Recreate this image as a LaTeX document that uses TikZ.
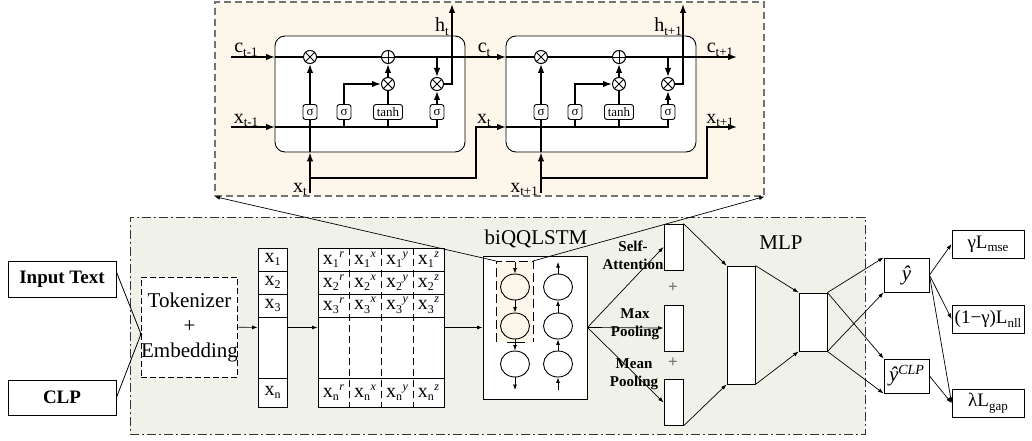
\documentclass[tikz,border=0pt]{standalone}
\usepackage{fontspec}
\setmainfont{Liberation Serif}
\usetikzlibrary{arrows.meta,shapes.geometric}
\newcommand\fsz[1]{\fontsize{#1}{#1}\selectfont}
\newcommand\lsub[2][12]{\raisebox{-3.5pt}{\fontsize{#1}{#1}\selectfont #2}}
\newcommand\lsup[2][12]{\raisebox{7pt}{\fontsize{#1}{#1}\selectfont\itshape #2}}
\definecolor{topfill}{RGB}{253,246,234}
\definecolor{botfill}{RGB}{240,242,233}
\begin{document}
\begin{tikzpicture}[x=1pt,y=-1pt,
 every node/.style={inner sep=0pt},
 box/.style={draw,line width=0.9pt,fill=white,rectangle},
 arr/.style={-{Latex[length=5.5pt,width=4pt]},line width=0.7pt},
 larr/.style={-{Latex[length=9pt,width=6.5pt]},line width=1.4pt},
 lline/.style={line width=1.4pt},
 op/.style={circle,draw,line width=1pt,fill=white,minimum size=13pt},
 gate/.style={draw,rounded corners=2.5pt,line width=0.9pt,fill=white,minimum height=15pt,font=\fsz{13}},
 dot/.style={circle,fill,minimum size=3.5pt},
 cellbox/.style={draw,rounded corners=10pt,line width=0.9pt,fill=white},
 lbl/.style={font=\fsz{20},anchor=base},
 bl/.style={font=\bfseries\fontsize{15}{18}\selectfont,align=center},
 ell/.style={ellipse,draw,line width=0.9pt,minimum width=29pt,minimum height=26pt},
 ]
\useasboundingbox (0,0) rectangle (1032,441);

% frames
\node[draw=black!55, dash pattern=on 7pt off 4pt, line width=1.1pt, fill=topfill,
      minimum width=549pt, minimum height=194pt] (top) at (489.5,99) {};
\node[draw=black!80, dash pattern=on 9pt off 3pt on 2pt off 3pt, line width=0.9pt, fill=botfill,
      minimum width=735pt, minimum height=217pt] (bot) at (497.5,325.5) {};

% ---------------- LSTM cells ----------------
\coordinate (cin) at (231,57);
\coordinate (xin) at (231,127);
\foreach \i/\d in {1/0,2/231}{
\begin{scope}[xshift=\d pt]
 \node[cellbox, minimum width=190pt, minimum height=116pt] (cell\i) at (370,94) {};
 \node[op] (mf\i) at (310,57) {};
 \node[op] (pl\i) at (388,57) {};
 \node[op] (mi\i) at (388,84) {};
 \node[op] (mo\i) at (437,84) {};
 \node[gate,minimum width=14pt] (s1\i) at (310,112) {σ};
 \node[gate,minimum width=14pt] (s2\i) at (344,112) {σ};
 \node[gate,minimum width=29pt] (th\i) at (388,112) {tanh};
 \node[gate,minimum width=14pt] (s4\i) at (437,112) {σ};
 \coordinate (cL\i) at (275,57);
 \coordinate (cR\i) at (465,57);
 \coordinate (cN\i) at (506,57);
 \coordinate (xL\i) at (275,127);
 \coordinate (xN\i) at (506,127);
 \coordinate (xin\i) at (310,193);
 \coordinate (xb\i) at (476,178);
 \coordinate (h\i) at (452,4);
 \coordinate (hj\i) at (452,57);
 % operator glyphs
 \draw[line width=0.9pt] (mf\i.north west) -- (mf\i.south east) (mf\i.north east) -- (mf\i.south west);
 \draw[line width=0.9pt] (mi\i.north west) -- (mi\i.south east) (mi\i.north east) -- (mi\i.south west);
 \draw[line width=0.9pt] (mo\i.north west) -- (mo\i.south east) (mo\i.north east) -- (mo\i.south west);
 \draw[line width=0.9pt] (pl\i.north) -- (pl\i.south) (pl\i.west) -- (pl\i.east);
 % cell state line
 \draw[lline] (cL\i) -- (mf\i);
 \draw[lline] (mf\i) -- (pl\i);
 \draw[lline] (pl\i) -- (cR\i);
 \draw[larr] (cR\i) -- (cN\i);
 % input line
 \draw[lline] (xL\i) -- (xL\i -| s4\i) -- (s4\i);
 \draw[lline] (s2\i |- xL\i) -- (s2\i);
 \draw[lline] (th\i |- xL\i) -- (th\i);
 \draw[larr] (xin\i) -- (xin\i |- cell\i.south);
 \draw[lline] (xin\i |- cell\i.south) -- (s1\i);
 \draw[larr] (s1\i) -- (mf\i);
 \draw[larr] (s2\i) |- (mi\i);
 \draw[lline] (th\i) -- (mi\i);
 \draw[larr] (mi\i) -- (pl\i);
 \draw[larr] (s4\i) -- (mo\i);
 \draw[larr] (mo\i |- cL\i) -- (mo\i);
 \draw[larr] (mo\i) -| (h\i);
 \draw[larr] (xin\i |- xb\i) -- (xb\i) -- (xb\i |- xN\i) -- (xN\i);
 \node[dot] at (s1\i |- xL\i) {};
 \node[dot] at (hj\i) {};
\end{scope}}
\draw[larr] (cin) -- (cL1);
\draw[larr] (xin) -- (xL1);
% LSTM labels
\node[lbl] at (246,53) {c\lsub[13]{t-1}};
\node[lbl] at (246,123) {x\lsub[13]{t-1}};
\node[lbl,anchor=base east] at (449,32) {h\lsub[13]{t}};
\node[lbl,anchor=base east] at (307,192) {x\lsub[13]{t}};
\node[lbl] at (484,53) {c\lsub[13]{t}};
\node[lbl] at (484,123) {x\lsub[13]{t}};
\node[lbl,anchor=base east] at (682,32) {h\lsub[13]{t+1}};
\node[lbl,anchor=base east] at (538,192) {x\lsub[13]{t+1}};
\node[lbl] at (720,53) {c\lsub[13]{t+1}};
\node[lbl] at (720,123) {x\lsub[13]{t+1}};

% ---------------- bottom pipeline ----------------
\node[box, minimum width=108pt, minimum height=36pt, font=\bfseries\fsz{19}] (in) at (62,279) {Input Text};
\node[box, minimum width=108pt, minimum height=35pt, font=\bfseries\fsz{19}] (clp) at (62,397.5) {CLP};
\node[draw, dash pattern=on 6pt off 3pt, line width=0.9pt, fill=white, minimum width=95pt,
      minimum height=100pt, align=center, font=\fontsize{21}{25}\selectfont] (tok) at (189.5,327) {Tokenizer\\+\\Embedding};
\coordinate (J) at (141,334);
\draw[line width=0.8pt] ([yshift=7pt]in.east) -- (J);
\draw[line width=0.8pt] (clp.east) -- (J);
\node[dot,minimum size=3pt] at (J) {};

% token column
\node[box, minimum width=29pt, minimum height=159pt] (xcol) at (272.5,327.5) {};
\node[box, minimum width=29pt, minimum height=23pt, font=\fsz{20}] (x1) at (272.5,259.5) {x\lsub{1}};
\node[box, minimum width=29pt, minimum height=23pt, font=\fsz{20}] (x2) at (272.5,282.5) {x\lsub{2}};
\node[box, minimum width=29pt, minimum height=23pt, font=\fsz{20}] (x3) at (272.5,305.5) {x\lsub{3}};
\node[box, minimum width=29pt, minimum height=29pt, font=\fsz{20}] (xn) at (272.5,392.5) {x\lsub{n}};

% quaternion matrix
\node[box, minimum width=126pt, minimum height=159pt] (mat) at (381,327.5) {};
\foreach \yy in {271,294,317,378}{\draw[line width=0.9pt] (mat.west |- 0,\yy) -- (mat.east |- 0,\yy);}
\foreach \xx in {349,381,413}{\draw[line width=0.9pt, dash pattern=on 7pt off 4pt] (\xx,0 |- mat.north) -- (\xx,0 |- mat.south);}
\foreach \r/\yy/\s in {1/259.5/1,2/282.5/2,3/305.5/3,n/392.5/n}{
  \foreach \c/\xx/\p in {r/333.5/r,x/365/x,y/397/y,z/428.5/z}{
    \node[font=\fsz{20}] (q\r\c) at (\xx,\yy) {x\lsub{\s}\hspace{0.5pt}\lsup{\p}};
  }}
\draw[arr] (tok) -- (xcol);
\draw[arr] (xcol) -- (mat);

% biQQLSTM
\node[box, minimum width=104pt, minimum height=143pt] (bi) at (535,327.5) {};
\node[font=\fsz{21}] (bilbl) at (536,239) {biQQLSTM};
\draw[arr] (mat) -- (bi);
\coordinate (hlNW) at (496,261);
\coordinate (hlNE) at (533,261);
\fill[topfill] (hlNW) rectangle (533,342);
\draw[line width=0.9pt, dash pattern=on 9pt off 4pt] (496,342) -- (hlNW) -- (hlNE) -- (533,342);
\draw[line width=1pt] (507,342) -- (525,342);
\node[ell,fill=topfill] (L1) at (515,287) {};
\node[ell,fill=topfill] (L2) at (515,326) {};
\node[ell,fill=white] (L3) at (515,364) {};
\node[ell,fill=white] (R1) at (558,287) {};
\node[ell,fill=white] (R2) at (558,326) {};
\node[ell,fill=white] (R3) at (558,364) {};
\coordinate (Ltop) at (515,262);
\coordinate (Lbot) at (515,390);
\coordinate (Rtop) at (558,262);
\coordinate (Rbot) at (558,390);
\draw[arr] (Ltop) -- (L1);
\draw[arr] (L1) -- (L2);
\draw[arr] (L2) -- (L3);
\draw[arr] (L3) -- (Lbot);
\draw[arr] (Rbot) -- (R3);
\draw[arr] (R3) -- (R2);
\draw[arr] (R2) -- (R1);
\draw[arr] (R1) -- (Rtop);

% zoom lines to the LSTM panel
\draw[arr] (hlNW) -- (top.south west);
\draw[arr] (hlNE) -- (top.south east);

% pooling
\node[box, minimum width=19pt, minimum height=46pt] (sa) at (673.5,247) {};
\node[box, minimum width=19pt, minimum height=46pt] (mx) at (673.5,328) {};
\node[box, minimum width=19pt, minimum height=46pt] (mn) at (673.5,402.5) {};
\draw[arr] (bi.east) -- (sa.west);
\draw[arr] (bi.east) -- (mx.west);
\draw[arr] (bi.east) -- (mn.west);
\node[bl] (salbl) at (633,255) {Self-\\Attention};
\node[bl] (mxlbl) at (635,324.5) {Max\\Pooling};
\node[bl] (mnlbl) at (634,374) {Mean\\Pooling};
\node[text=black!55, font=\bfseries\fsz{17}] (p1) at (673,288) {+};
\node[text=black!55, font=\bfseries\fsz{17}] (p2) at (673,363) {+};

% MLP
\node[box, minimum width=28pt, minimum height=118pt] (m1) at (741,325) {};
\node[box, minimum width=28pt, minimum height=58pt] (m2) at (813,322) {};
\node[font=\fsz{21}] (mlplbl) at (781,243) {MLP};
\draw[arr] (sa.north east) -- (m1.north west);
\draw[arr] (mn.south east) -- (m1.south west);
\draw[arr] (m1.north east) -- (m2.north west);
\draw[arr] (m1.south east) -- (m2.south west);

% outputs
\node[box, minimum width=45pt, minimum height=34pt, font=\fsz{21}] (yh) at (906.5,275) {\itshape ŷ};
\node[box, minimum width=45pt, minimum height=34pt, font=\fsz{21}] (yc) at (906.5,376) {\itshape ŷ\lsup[14]{CLP}};
\draw[arr] (m2.north east) -- (yh.north west);
\draw[arr] (m2.north east) -- (yc.north west);
\draw[arr] (m2.south east) -- (yh.south west);
\draw[arr] (m2.south east) -- (yc.south west);

% losses
\node[box, minimum width=72pt, minimum height=28pt, font=\fsz{19}] (lm) at (988,244) {γL\lsub[13]{mse}};
\node[box, minimum width=72pt, minimum height=28pt, font=\fsz{19}] (ln) at (988,319) {(1−γ)L\lsub[13]{nll}};
\node[box, minimum width=72pt, minimum height=28pt, font=\fsz{19}] (lg) at (988,403) {λL\lsub[13]{gap}};
\draw[arr] (yh.east) -- (lm.west);
\draw[arr] (yh.east) -- (ln.west);
\draw[arr] (yh.east) -- (lg.west);
\draw[arr] (yc.east) -- (lg.west);
\end{tikzpicture}
\end{document}
